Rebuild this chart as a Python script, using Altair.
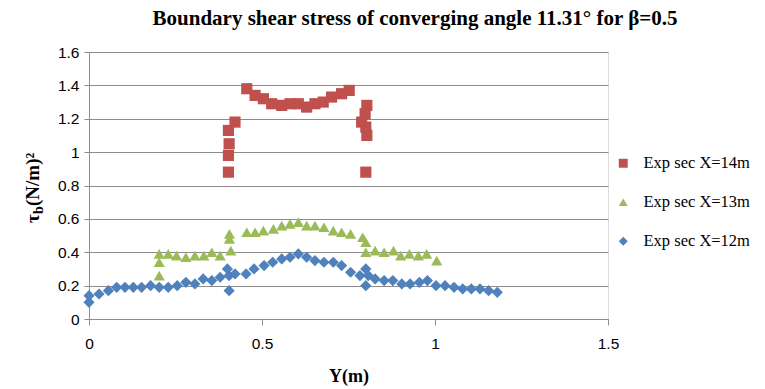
import altair as alt
import pandas as pd

# Boundary shear stress measurements, three sections
x14 = [0.403, 0.403, 0.405, 0.403, 0.422, 0.456, 0.480, 0.504, 0.528, 0.557, 0.581, 0.605,
       0.629, 0.653, 0.677, 0.701, 0.730, 0.752, 0.788, 0.803, 0.798, 0.800, 0.803, 0.800]
y14 = [0.88, 1.13, 1.05, 0.98, 1.18, 1.38, 1.34, 1.32, 1.29, 1.28, 1.29, 1.29,
       1.27, 1.29, 1.30, 1.33, 1.35, 1.37, 1.18, 1.28, 1.23, 1.15, 1.10, 0.88]

x13 = [0.203, 0.203, 0.203, 0.229, 0.253, 0.280, 0.306, 0.332, 0.355, 0.379, 0.406, 0.406,
       0.410, 0.456, 0.480, 0.504, 0.533, 0.557, 0.581, 0.605, 0.629, 0.653, 0.679, 0.706,
       0.730, 0.756, 0.791, 0.800, 0.800, 0.827, 0.853, 0.880, 0.901, 0.926, 0.952, 0.976,
       1.005]
y13 = [0.26, 0.34, 0.39, 0.39, 0.38, 0.37, 0.38, 0.38, 0.40, 0.38, 0.51, 0.48,
       0.41, 0.52, 0.52, 0.53, 0.54, 0.56, 0.57, 0.58, 0.56, 0.56, 0.55, 0.53,
       0.52, 0.51, 0.49, 0.46, 0.40, 0.41, 0.40, 0.41, 0.38, 0.39, 0.38, 0.39,
       0.35]

x12 = [0.000, 0.000, 0.029, 0.056, 0.080, 0.104, 0.128, 0.152, 0.178, 0.203, 0.229, 0.255,
       0.280, 0.306, 0.330, 0.355, 0.379, 0.400, 0.405, 0.405, 0.422, 0.454, 0.477, 0.506,
       0.531, 0.557, 0.581, 0.605, 0.629, 0.653, 0.679, 0.706, 0.730, 0.756, 0.783, 0.800,
       0.800, 0.807, 0.827, 0.853, 0.878, 0.904, 0.928, 0.955, 0.978, 1.003, 1.029, 1.055,
       1.080, 1.105, 1.130, 1.155, 1.180]
y12 = [0.10, 0.14, 0.15, 0.17, 0.19, 0.19, 0.19, 0.19, 0.20, 0.19, 0.19, 0.20,
       0.22, 0.21, 0.24, 0.23, 0.25, 0.30, 0.26, 0.17, 0.27, 0.27, 0.30, 0.32,
       0.34, 0.36, 0.37, 0.39, 0.37, 0.35, 0.34, 0.34, 0.32, 0.28, 0.26, 0.30,
       0.20, 0.26, 0.24, 0.23, 0.23, 0.21, 0.21, 0.22, 0.23, 0.20, 0.20, 0.19,
       0.18, 0.18, 0.18, 0.17, 0.16]

series = ["Exp sec X=14m", "Exp sec X=13m", "Exp sec X=12m"]
colors = ["#C0504D", "#9BBB59", "#4F81BD"]
shapes = ["square", "triangle-up", "diamond"]

rows = []
for name, xs, ys in [(series[2], x12, y12), (series[1], x13, y13), (series[0], x14, y14)]:
    for a, b in zip(xs, ys):
        rows.append({"Y": a, "tau": b, "series": name})
df = pd.DataFrame(rows)

serif = "Liberation Serif"
sans = "Liberation Sans"

points = alt.Chart(df).mark_point(filled=True, opacity=1, size=125).encode(
    x=alt.X("Y:Q", scale=alt.Scale(domain=[0, 1.5]),
            axis=alt.Axis(values=[0, 0.5, 1, 1.5], format="~g", grid=False,
                          title="Y(m)", titleFont=serif, titleFontSize=18,
                          titleFontWeight="bold", titleColor="black",
                          titlePadding=16, labelFlush=False,
                          labelFont=sans, labelFontSize=15.5, labelColor="black",
                          labelPadding=11,
                          domainColor="#8c8c8c", tickColor="#8c8c8c", tickSize=6)),
    y=alt.Y("tau:Q", scale=alt.Scale(domain=[0, 1.6]),
            axis=alt.Axis(values=[0, 0.2, 0.4, 0.6, 0.8, 1, 1.2, 1.4, 1.6], format="~g",
                          title=None, gridColor="#8c8c8c", gridWidth=1,
                          labelFont=sans, labelFontSize=15.5, labelColor="black",
                          labelPadding=5,
                          domainColor="#8c8c8c", tickColor="#8c8c8c", tickSize=5)),
    color=alt.Color("series:N", scale=alt.Scale(domain=series, range=colors),
                    legend=alt.Legend(title=None, orient="none", legendX=526, legendY=103,
                                      labelFont=serif, labelFontSize=16.5, labelColor="black",
                                      symbolSize=80, rowPadding=22, labelOffset=12)),
    shape=alt.Shape("series:N", scale=alt.Scale(domain=series, range=shapes)),
    order=alt.Order("series:N", sort="descending"),
)

title_df = pd.DataFrame({"t": ["Boundary shear stress of converging angle 11.31° for β=0.5"]})
title = alt.Chart(title_df).mark_text(font=serif, fontSize=21, fontWeight="bold",
                                      align="center", baseline="alphabetic", color="black").encode(
    text="t:N", x=alt.value(326), y=alt.value(-27))

ytitle_df = pd.DataFrame({"t": ["τ"]})
ysub_df = pd.DataFrame({"t": ["b"]})
yrest_df = pd.DataFrame({"t": ["(N/m)²"]})
yx, yy = -50, 171
ytitle = alt.Chart(ytitle_df).mark_text(font=serif, fontSize=19, fontWeight="bold", angle=270,
                                        align="left", baseline="alphabetic", color="black").encode(
    text="t:N", x=alt.value(yx), y=alt.value(yy))
ysub = alt.Chart(ysub_df).mark_text(font=serif, fontSize=14, fontWeight="bold", angle=270,
                                    align="left", baseline="alphabetic", color="black",
                                    dx=9, dy=4).encode(
    text="t:N", x=alt.value(yx), y=alt.value(yy))
yrest = alt.Chart(yrest_df).mark_text(font=serif, fontSize=19, fontWeight="bold", angle=270,
                                      align="left", baseline="alphabetic", color="black",
                                      dx=17).encode(
    text="t:N", x=alt.value(yx), y=alt.value(yy))

chart = alt.layer(points, title, ytitle, ysub, yrest).properties(
    width=519, height=267,
    autosize=alt.AutoSizeParams(type="none"),
    padding={"left": 89, "top": 52, "right": 157, "bottom": 70},
).configure_view(stroke=None).configure(background="white")

chart.save("out.html", embed_options={"renderer": "svg", "actions": False})
